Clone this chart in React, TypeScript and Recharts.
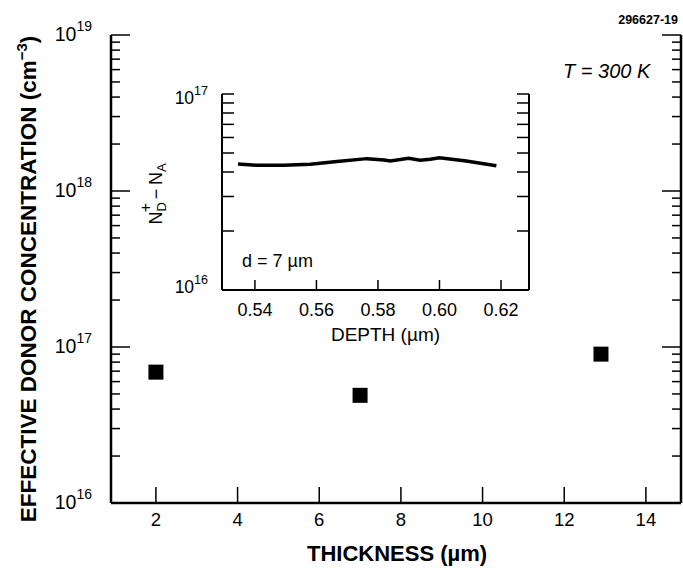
import React from 'react';
import { ScatterChart, Scatter, LineChart, Line, XAxis, YAxis, Label } from 'recharts';

// ---- Main chart data ----
const thicknessUm = [2, 7, 12.9];
const donorConc = [6.9e16, 4.9e16, 9.0e16];
const thicknessTicks = [2, 4, 6, 8, 10, 12, 14];
const concDecades = [16, 17, 18, 19];
const minorMultipliers = [2, 3, 4, 5, 6, 7, 8, 9];

// ---- Inset data (d = 7 um) ----
const depthUm = [0.5345, 0.5406, 0.5493, 0.558, 0.5667, 0.5764, 0.582, 0.584, 0.59, 0.5937, 0.597, 0.6, 0.6087, 0.6185];
const netDonor = [4.4e16, 4.33e16, 4.33e16, 4.38e16, 4.52e16, 4.68e16, 4.61e16, 4.55e16, 4.7e16, 4.59e16, 4.65e16, 4.73e16, 4.55e16, 4.3e16];
const depthTicks = [0.54, 0.56, 0.58, 0.6, 0.62];
const insetDecades = [16, 17];

const FONT = '"Liberation Sans", Arial, Helvetica, sans-serif';

const buildLogTicks = (decades: number[]) => {
  const t: number[] = [];
  decades.forEach((e, i) => {
    t.push(Math.pow(10, e));
    if (i < decades.length - 1) minorMultipliers.forEach((m) => t.push(m * Math.pow(10, e)));
  });
  return t;
};
const concTicks = buildLogTicks(concDecades);
const insetTicks = buildLogTicks(insetDecades);

const mainData = thicknessUm.map((t, i) => ({ t, c: donorConc[i] }));
const insetData = depthUm.map((d, i) => ({ d, n: netDonor[i] }));

const isMajor = (v: number) => {
  const lg = Math.log10(v);
  return Math.abs(lg - Math.round(lg)) < 1e-6;
};

const MainLeftTick = (props: any) => {
  const { x, y, payload } = props;
  const v = payload.value;
  const major = isMajor(v);
  const exp = Math.round(Math.log10(v));
  return (
    <g>
      <line x1={x} y1={y} x2={x + (major ? 19 : 9)} y2={y} stroke="#000" strokeWidth={1.5} />
      {major && (
        <text x={x - 19} y={y + 6} textAnchor="end" fontSize={19.5} fontFamily={FONT} fill="#000">
          10<tspan fontSize={14} dy={-10}>{exp}</tspan>
        </text>
      )}
    </g>
  );
};

const MainRightTick = (props: any) => {
  const { x, y, payload } = props;
  const major = isMajor(payload.value);
  return <line x1={x} y1={y} x2={x - (major ? 19 : 9)} y2={y} stroke="#000" strokeWidth={1.5} />;
};

const MainBottomTick = (props: any) => {
  const { x, y, payload } = props;
  return (
    <g>
      <line x1={x} y1={y} x2={x} y2={y - 16} stroke="#000" strokeWidth={1.5} />
      <text x={x} y={y + 23} textAnchor="middle" fontSize={18.5} fontFamily={FONT} fill="#000">
        {payload.value}
      </text>
    </g>
  );
};

const MainTopTick = (props: any) => {
  const { x, y } = props;
  return <line x1={x} y1={y} x2={x} y2={y + 16} stroke="#000" strokeWidth={1.5} />;
};

const InsetLeftTick = (props: any) => {
  const { x, y, payload } = props;
  const v = payload.value;
  const major = isMajor(v);
  const exp = Math.round(Math.log10(v));
  return (
    <g>
      <line x1={x} y1={y} x2={x + 12} y2={y} stroke="#000" strokeWidth={1.5} />
      {major && (
        <text x={x - 14} y={exp === 17 ? y + 10 : y + 3} textAnchor="end" fontSize={17.5} fontFamily={FONT} fill="#000">
          10<tspan fontSize={12.5} dy={-9}>{exp}</tspan>
        </text>
      )}
    </g>
  );
};

const InsetRightTick = (props: any) => {
  const { x, y } = props;
  return <line x1={x} y1={y} x2={x - 12} y2={y} stroke="#000" strokeWidth={1.5} />;
};

const InsetBottomTick = (props: any) => {
  const { x, y, payload } = props;
  return (
    <g>
      <line x1={x} y1={y} x2={x} y2={y - 10} stroke="#000" strokeWidth={1.5} />
      <text x={x} y={y + 26} textAnchor="middle" fontSize={18} fontFamily={FONT} fill="#000">
        {Number(payload.value).toFixed(2)}
      </text>
    </g>
  );
};

const InsetTopTick = (props: any) => {
  const { x, y } = props;
  return <line x1={x} y1={y} x2={x} y2={y + 10} stroke="#000" strokeWidth={1.5} />;
};

const SquareMark = (props: any) => {
  const { cx, cy } = props;
  return <rect x={cx - 7.5} y={cy - 7.5} width={15} height={15} fill="#000" />;
};
const NoMark = () => <g />;

const XTitle = (props: any) => {
  const vb = props.viewBox;
  return (
    <text x={vb.x + vb.width / 2 + 1} y={vb.y + 58} textAnchor="middle" fontSize={22} fontWeight="bold" fontFamily={FONT} fill="#000">
      THICKNESS (µm)
    </text>
  );
};

const YTitle = (props: any) => {
  const vb = props.viewBox;
  const px = vb.x + 36;
  const py = vb.y + vb.height / 2 + 10;
  return (
    <text x={px} y={py} transform={`rotate(-90 ${px} ${py})`} textAnchor="middle" fontSize={22.5} fontWeight="bold" fontFamily={FONT} fill="#000">
      EFFECTIVE DONOR CONCENTRATION (cm<tspan fontSize={15} dy={-9}>−3</tspan><tspan dy={9}>)</tspan>
    </text>
  );
};

const InsetXTitle = (props: any) => {
  const vb = props.viewBox;
  return (
    <text x={vb.x + vb.width / 2 + 10} y={vb.y + 51} textAnchor="middle" fontSize={19} fontFamily={FONT} fill="#000">
      DEPTH (µm)
    </text>
  );
};

const InsetYTitle = (props: any) => {
  const vb = props.viewBox;
  const px = vb.x + 44;
  const py = vb.y + vb.height / 2 + 2;
  return (
    <text x={px} y={py} transform={`rotate(-90 ${px} ${py})`} textAnchor="middle" fontSize={18} fontFamily={FONT} fill="#000">
      N<tspan fontSize={13} dy={4}>D</tspan>
      <tspan fontSize={16} dx={-10} dy={-15}>+</tspan>
      <tspan fontSize={18} dy={11}>{'\u2009−\u2009'}N</tspan>
      <tspan fontSize={13} dy={4}>A</tspan>
    </text>
  );
};

export default function App() {
  return (
    <div style={{ position: 'absolute', left: 0, top: 0, width: 683, height: 573, background: '#fff', overflow: 'hidden' }}>
      <div style={{ position: 'absolute', left: 0, top: 0 }}>
        <ScatterChart width={683} height={573} margin={{ top: 35, right: 0, bottom: 0, left: 0 }}>
          <XAxis
            xAxisId="bottom"
            dataKey="t"
            type="number"
            domain={[0.9, 14.86]}
            allowDataOverflow
            ticks={thicknessTicks}
            interval={0}
            height={70}
            tickSize={0}
            tickMargin={0}
            tickLine={false}
            tick={<MainBottomTick />}
            axisLine={{ stroke: '#000', strokeWidth: 2.5 }}
          >
            <Label content={<XTitle />} />
          </XAxis>
          <XAxis
            xAxisId="top"
            orientation="top"
            dataKey="t"
            type="number"
            domain={[0.9, 14.86]}
            allowDataOverflow
            ticks={thicknessTicks}
            interval={0}
            height={0}
            tickSize={0}
            tickMargin={0}
            tickLine={false}
            tick={<MainTopTick />}
            axisLine={{ stroke: '#000', strokeWidth: 2.5 }}
          />
          <YAxis
            yAxisId="left"
            dataKey="c"
            type="number"
            scale="log"
            domain={[1e16, 1e19]}
            allowDataOverflow
            ticks={concTicks}
            interval={0}
            width={111}
            tickSize={0}
            tickMargin={0}
            tickLine={false}
            tick={<MainLeftTick />}
            axisLine={{ stroke: '#000', strokeWidth: 2.5 }}
          >
            <Label content={<YTitle />} />
          </YAxis>
          <YAxis
            yAxisId="right"
            orientation="right"
            dataKey="c"
            type="number"
            scale="log"
            domain={[1e16, 1e19]}
            allowDataOverflow
            ticks={concTicks}
            interval={0}
            width={2}
            tickSize={0}
            tickMargin={0}
            tickLine={false}
            tick={<MainRightTick />}
            axisLine={{ stroke: '#000', strokeWidth: 2.5 }}
          />
          <Scatter xAxisId="top" yAxisId="right" data={mainData} shape={<NoMark />} isAnimationActive={false} legendType="none" />
          <Scatter xAxisId="bottom" yAxisId="left" data={mainData} shape={<SquareMark />} isAnimationActive={false} />
        </ScatterChart>
      </div>

      <div style={{ position: 'absolute', left: 118, top: 80 }}>
        <LineChart width={422} height={270} data={insetData} margin={{ top: 14, right: 0, bottom: 0, left: 0 }}>
          <XAxis
            xAxisId="bottom"
            dataKey="d"
            type="number"
            domain={[0.5293, 0.6291]}
            allowDataOverflow
            ticks={depthTicks}
            interval={0}
            height={60}
            tickSize={0}
            tickMargin={0}
            tickLine={false}
            tick={<InsetBottomTick />}
            axisLine={{ stroke: '#000', strokeWidth: 2 }}
          >
            <Label content={<InsetXTitle />} />
          </XAxis>
          <XAxis
            xAxisId="top"
            orientation="top"
            dataKey="d"
            type="number"
            domain={[0.5293, 0.6291]}
            allowDataOverflow
            ticks={depthTicks}
            interval={0}
            height={0}
            tickSize={0}
            tickMargin={0}
            tickLine={false}
            tick={<InsetTopTick />}
            axisLine={{ stroke: '#000', strokeWidth: 2 }}
          />
          <YAxis
            yAxisId="left"
            dataKey="n"
            type="number"
            scale="log"
            domain={[1e16, 1e17]}
            allowDataOverflow
            ticks={insetTicks}
            interval={0}
            width={104}
            tickSize={0}
            tickMargin={0}
            tickLine={false}
            tick={<InsetLeftTick />}
            axisLine={{ stroke: '#000', strokeWidth: 2 }}
          >
            <Label content={<InsetYTitle />} />
          </YAxis>
          <YAxis
            yAxisId="right"
            orientation="right"
            dataKey="n"
            type="number"
            scale="log"
            domain={[1e16, 1e17]}
            allowDataOverflow
            ticks={insetTicks}
            interval={0}
            width={11}
            tickSize={0}
            tickMargin={0}
            tickLine={false}
            tick={<InsetRightTick />}
            axisLine={{ stroke: '#000', strokeWidth: 2 }}
          />
          <Line xAxisId="top" yAxisId="right" dataKey="n" stroke="none" dot={false} isAnimationActive={false} legendType="none" />
          <Line xAxisId="bottom" yAxisId="left" dataKey="n" type="linear" stroke="#000" strokeWidth={3.5} dot={false} isAnimationActive={false} />
        </LineChart>
      </div>

      <svg width={683} height={573} style={{ position: 'absolute', left: 0, top: 0, pointerEvents: 'none' }}>
        <text x={678} y={24} textAnchor="end" fontSize={12.5} fontWeight="bold" fontFamily={FONT} fill="#000">296627-19</text>
        <text x={563} y={78} fontSize={20} fontStyle="italic" fontFamily={FONT} fill="#000">T = 300 K</text>
        <text x={242} y={267} fontSize={18} fontFamily={FONT} fill="#000">d = 7 µm</text>
      </svg>
    </div>
  );
}
